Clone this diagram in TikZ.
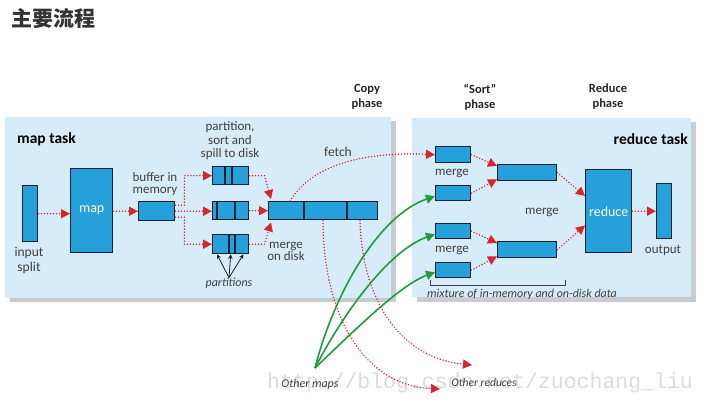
\documentclass[tikz,border=0pt]{standalone}
\usepackage{fontspec}
\setmainfont{Carlito}
\newfontfamily\cjkfont{Noto Sans CJK SC}
\newfontfamily\wmfont{Liberation Mono}
\usetikzlibrary{arrows.meta}

\definecolor{panelblue}{RGB}{214,236,248}
\definecolor{panelshade}{RGB}{175,182,188}
\definecolor{boxblue}{RGB}{38,160,219}
\definecolor{boxline}{RGB}{22,32,48}
\definecolor{arrred}{RGB}{216,36,44}
\definecolor{arrgreen}{RGB}{32,156,60}
\definecolor{txtgray}{RGB}{64,64,64}

\tikzset{
  blk/.style={draw=boxline, fill=boxblue, line width=1.4pt, inner sep=0pt, anchor=north west},
  lbl/.style={text=txtgray, font=\fontsize{13}{12}\selectfont, align=center, inner sep=1pt},
  itlbl/.style={text=txtgray, font=\itshape\fontsize{12}{12}\selectfont, inner sep=1pt},
  phaselbl/.style={text=black!85, font=\bfseries\fontsize{12.5}{15}\selectfont, align=center, inner sep=0pt},
  redarrow/.style={draw=arrred, line width=1.6pt, line cap=round, dash pattern=on 0pt off 3pt,
    -{Triangle[length=9pt,width=9pt,fill=arrred,line cap=butt]}},
  greenarrow/.style={draw=arrgreen, line width=1.6pt,
    -{Triangle[length=9pt,width=9pt,fill=arrgreen]}},
  partarrow/.style={draw=boxline, line width=0.8pt, -{Stealth[length=4.5pt,width=4.5pt]}},
}

\begin{document}
\begin{tikzpicture}[x=1pt, y=-1pt]
\useasboundingbox (0,0) rectangle (710,406);

% Title
\node[anchor=west, inner sep=0pt, text=black!80, font=\cjkfont\bfseries\fontsize{21}{21}\selectfont] (title) at (11,19) {主要流程};

% Watermark
\node[text=gray!28, font=\wmfont\fontsize{21.5}{21.5}\selectfont, inner sep=0pt] (wmark) at (480,383) {http://blog.csdn.net/zuochang\_liu};

% Panels (with shadow)
\fill[panelshade!70] (10,121) rectangle (396,302);
\fill[panelblue] (5,117) rectangle (391,298);
\fill[panelshade!70] (417,122) rectangle (696,302);
\fill[panelblue] (412,118) rectangle (691,297);

\node[anchor=west, inner sep=0pt, font=\bfseries\fontsize{15.5}{15.5}\selectfont] (maptask) at (17,139) {map task};
\node[anchor=east, inner sep=0pt, font=\bfseries\fontsize{15.5}{15.5}\selectfont] (redtask) at (688,139) {reduce task};

% Phase labels
\node[phaselbl] (copyph) at (367,97) {Copy\\phase};
\node[phaselbl] (sortph) at (480,97) {“Sort”\\phase};
\node[phaselbl] (reduceph) at (608,97) {Reduce\\phase};

% Map side boxes
\node[blk, minimum width=15, minimum height=56] (split) at (22,185) {};
\node[blk, minimum width=42, minimum height=84, text=white, font=\fontsize{14}{14}\selectfont] (mapbox) at (70,168) {map};
\node[blk, minimum width=36, minimum height=19] (buffer) at (138,201) {};
\node[blk, minimum width=36, minimum height=18] (part1) at (212,166) {};
\node[blk, minimum width=36, minimum height=18] (part2) at (212,201) {};
\node[blk, minimum width=36, minimum height=19] (part3) at (212,234) {};
\node[blk, minimum width=109, minimum height=18] (disk) at (268,201) {};

% Dividers
\draw[boxline, line width=1.2pt] (225,166) -- (225,184) (232,166) -- (232,184);
\draw[boxline, line width=1.2pt] (217,201) -- (217,219) (235,201) -- (235,219);
\draw[boxline, line width=1.2pt] (229,234) -- (229,253) (235,234) -- (235,253);
\draw[boxline, line width=1.2pt] (304,201) -- (304,219) (347,201) -- (347,219);

% Map side labels
\node[lbl, font=\fontsize{13.5}{15}\selectfont] (splitlbl) at (29,260) {input\\split};
\node[lbl] (bufferlbl) at (155,184) {buffer in\\memory};
\node[lbl, font=\fontsize{13}{13.5}\selectfont] (partlbl) at (230,141) {partition,\\sort and\\spill to disk};
\node[lbl] (disklbl) at (286,251) {merge\\on disk};
\node[itlbl] (partslbl) at (229,283) {partitions};
\node[lbl, font=\fontsize{13.5}{13.5}\selectfont] (fetchlbl) at (338,152) {fetch};

% Map side arrows
\draw[redarrow] (split.east) -- (split.east -| mapbox.west);
\draw[redarrow] (mapbox.east |- buffer.west) -- (buffer.west);
\draw[redarrow] ([yshift=6pt]buffer.east) -- ++(9,0) |- (part1.west);
\draw[redarrow] (buffer.east) -- (buffer.east -| part2.west);
\draw[redarrow] ([yshift=-6pt]buffer.east) -- ++(9,0) |- (part3.west);
\draw[redarrow] (part1.east) -- ++(15,0) -- ([xshift=3pt,yshift=2pt]disk.north west);
\draw[redarrow] (part2.east) -- (part2.east -| disk.west);
\draw[redarrow] (part3.east) -- ++(15,0) -- ([xshift=3pt,yshift=-2pt]disk.south west);

\draw[partarrow] ([yshift=-1pt]partslbl.north) -- ([xshift=5pt]part3.south west);
\draw[partarrow] ([yshift=-1pt]partslbl.north) -- (part3.south);
\draw[partarrow] ([yshift=-1pt]partslbl.north) -- ([xshift=-6pt]part3.south east);

% Reduce side boxes
\node[blk, minimum width=35, minimum height=16] (inA) at (435,146) {};
\node[blk, minimum width=35, minimum height=15] (inB) at (435,185) {};
\node[blk, minimum width=35, minimum height=15] (inC) at (435,223) {};
\node[blk, minimum width=35, minimum height=15] (inD) at (435,262) {};
\node[blk, minimum width=59, minimum height=16] (mergeE) at (497,164) {};
\node[blk, minimum width=59, minimum height=16] (mergeF) at (497,241) {};
\node[blk, minimum width=46, minimum height=83, text=white, font=\fontsize{14}{14}\selectfont] (reducebox) at (585,169) {reduce};
\node[blk, minimum width=15, minimum height=55] (output) at (656,183) {};

% Reduce side labels
\node[lbl] (mergelblA) at (452,173) {merge};
\node[lbl] (mergelblB) at (452,250) {merge};
\node[lbl] (mergelblC) at (542,212) {merge};
\node[lbl] (outputlbl) at (663,250) {output};
\node[itlbl] (mixlbl) at (522,294) {mixture of in-memory and on-disk data};
\draw[txtgray, line width=0.8pt] (430,280) -- (430,285) -- (565,285) -- (565,280);

% Reduce side arrows
\draw[redarrow] (inA.east) -- ([yshift=-2pt]mergeE.north west);
\draw[redarrow] (inB.east) -- ([yshift=2pt]mergeE.south west);
\draw[redarrow] (inC.east) -- ([yshift=-2pt]mergeF.north west);
\draw[redarrow] (inD.east) -- ([yshift=2pt]mergeF.south west);
\draw[redarrow] (mergeE.east) -- ([yshift=-27pt]reducebox.north west);
\draw[redarrow] (mergeF.east) -- ([yshift=28pt]reducebox.south west);
\draw[redarrow] (reducebox.east) -- (reducebox.east -| output.west);

% Fetch
\draw[redarrow] ([xshift=22pt]disk.north west) .. controls (315,160) and (375,152) .. (inA.west);

% Other maps / other reduces
\node[itlbl] (omaps) at (310,384) {Other maps};
\node[itlbl, font=\itshape\fontsize{11.5}{12}\selectfont] (oreduces) at (484,383) {Other reduces};
\coordinate (mapsrc) at (315,368);

\draw[greenarrow] (mapsrc) .. controls (335,290) and (380,215) .. ([yshift=-3pt]inB.west);
\draw[greenarrow] (mapsrc) .. controls (345,310) and (390,250) .. ([yshift=-3pt]inC.west);
\draw[greenarrow] (mapsrc) .. controls (355,330) and (400,285) .. ([yshift=-2pt]inD.west);

\draw[redarrow] ([xshift=55pt]disk.south west) .. controls (323,310) and (360,385) .. (440,389);
\draw[redarrow] ([xshift=92pt]disk.south west) .. controls (362,300) and (400,358) .. (472,365);

\end{tikzpicture}
\end{document}
